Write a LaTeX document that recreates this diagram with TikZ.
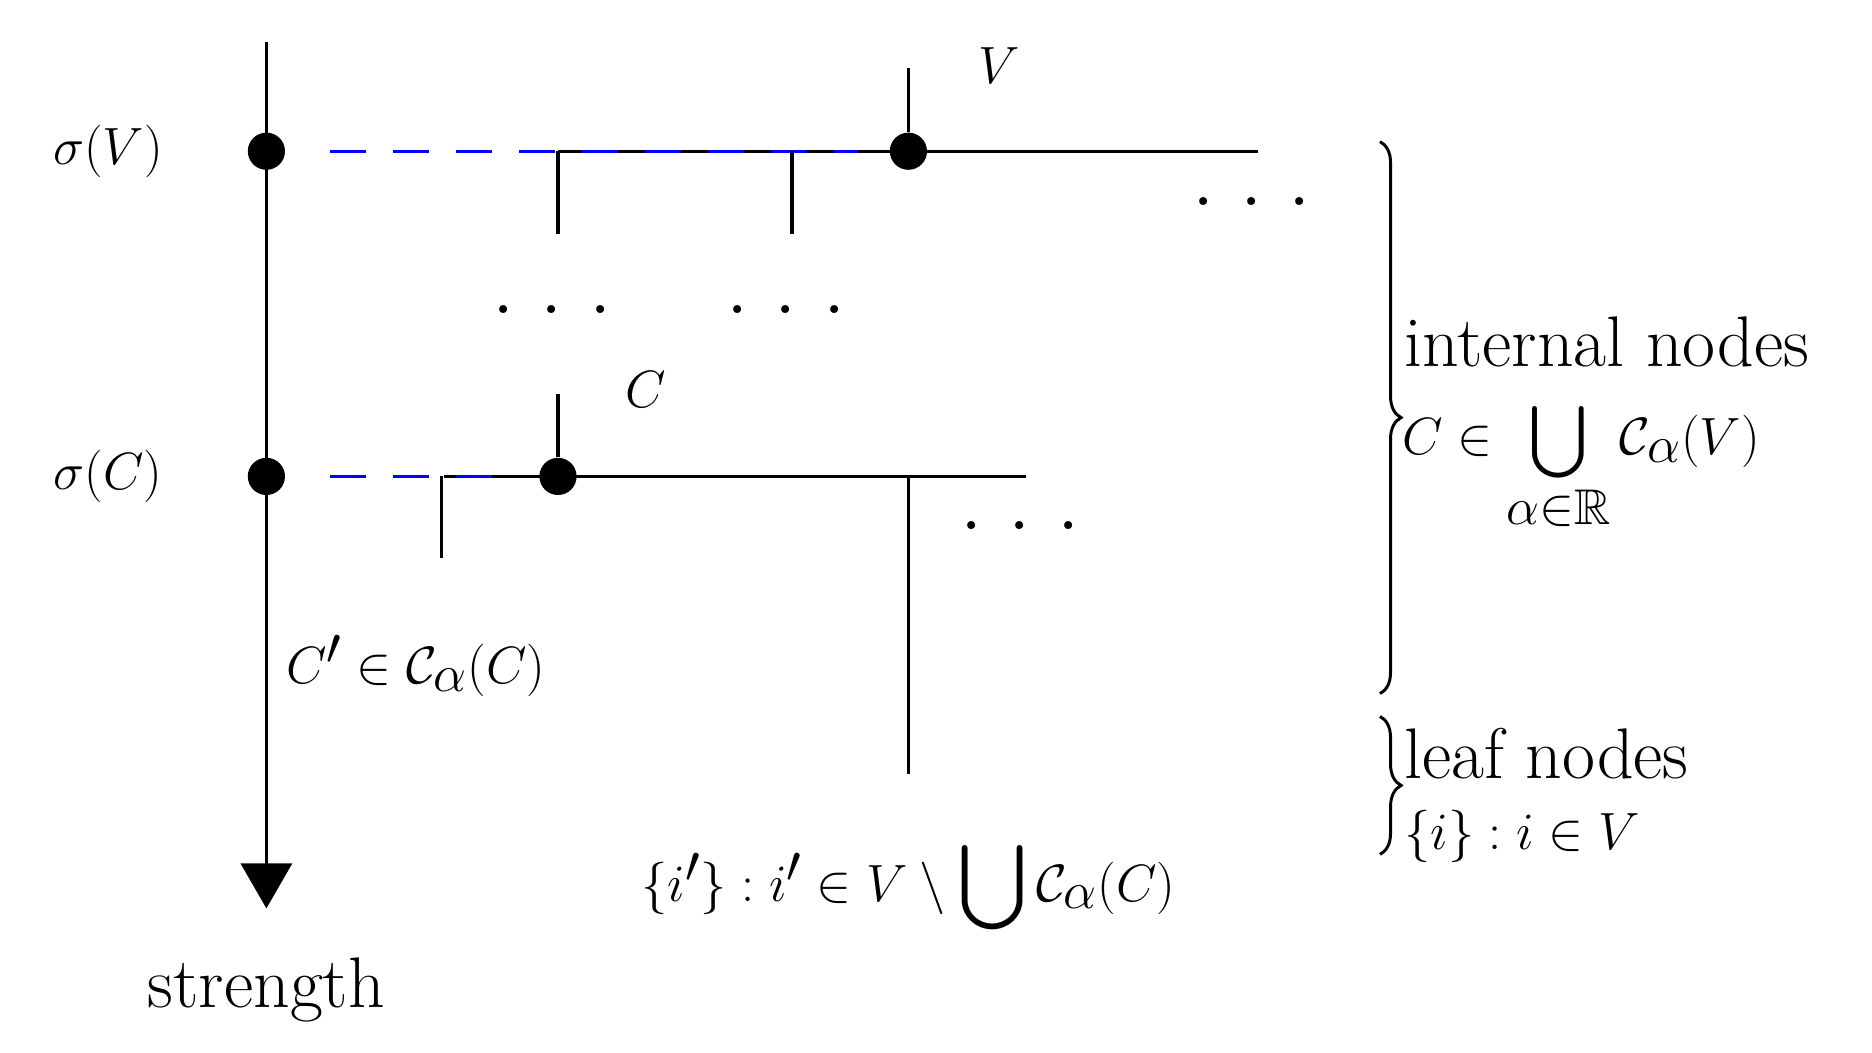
\documentclass[tikz,border=0pt]{standalone}
\usepackage{amsmath,amssymb}
\usetikzlibrary{decorations.pathreplacing,arrows.meta}
\begin{document}
\begin{tikzpicture}[x=0.02cm,y=-0.02cm,
  txt/.style={font=\fontsize{34}{40}\selectfont,inner sep=0pt},
  mth/.style={font=\fontsize{40}{46}\selectfont,inner sep=0pt},
  dot/.style={circle,fill=black,minimum size=0.62cm,inner sep=0pt},
  ln/.style={line width=1.6pt},
  bl/.style={blue,line width=1.6pt,dash pattern=on 0.6cm off 0.45cm},
  dts/.style={font=\fontsize{46}{50}\selectfont,inner sep=0pt}]
\newcommand{\mydots}{.\hspace{0.4cm}.\hspace{0.4cm}.}
\useasboundingbox (0,0) rectangle (1560,877);
\draw[ln] (465,126) -- (1048,126);
\draw[ln] (370,397) -- (855,397);
\draw[bl] (275,126) -- (715,126);
\draw[bl] (275,397) -- (425,397);
\node[dot] (sv) at (222,126) {};
\node[dot] (sc) at (222,397) {};
\node[dot] (v) at (757,126) {};
\node[dot] (c) at (465,397) {};
\coordinate (top) at (222,35);
\coordinate (bot) at (222,757);
\draw[ln,-{Triangle[length=0.75cm,width=0.85cm]}] (top) -- (bot);
\node[mth] (lsv) at (90,126) {$\sigma(V)$};
\node[mth] (lsc) at (90,397) {$\sigma(C)$};
\draw[ln] (465,126) -- (465,195);
\draw[ln] (660,126) -- (660,195);
\draw[ln] (v) -- (757,57);
\node[mth] at (833,55) {$V$};
\node[dts] at (1043,168) {\mydots};
\node[dts] at (460,258) {\mydots};
\node[dts] at (655,258) {\mydots};
\node[dts] at (850,438) {\mydots};
\draw[ln] (c) -- (465,328);
\node[mth] at (538,325) {$C$};
\draw[ln] (368,397) -- (368,465);
\draw[ln] (757,397) -- (757,645);
\node[mth,anchor=west] at (238,555) {$C'\in\mathcal{C}_\alpha(C)$};
\node[mth] at (757,740) {$\{i'\}:i'\in V\setminus\textstyle\bigcup\mathcal{C}_\alpha(C)$};
\node[txt] at (222,825) {strength};
\draw[ln,line width=1.4pt,decorate,decoration={brace,amplitude=10pt}] (1150,118) -- (1150,578);
\draw[ln,line width=1.4pt,decorate,decoration={brace,amplitude=10pt}] (1150,597) -- (1150,712);
\node[txt,anchor=west] at (1170,285) {internal nodes};
\node[txt,anchor=north west] at (1168,338) {$C\in\bigcup\limits_{\alpha\in\mathbb{R}}\mathcal{C}_\alpha(V)$};
\node[txt,anchor=west] at (1170,628) {leaf nodes};
\node[mth,anchor=west] at (1170,697) {$\{i\}:i\in V$};
\end{tikzpicture}
\end{document}
